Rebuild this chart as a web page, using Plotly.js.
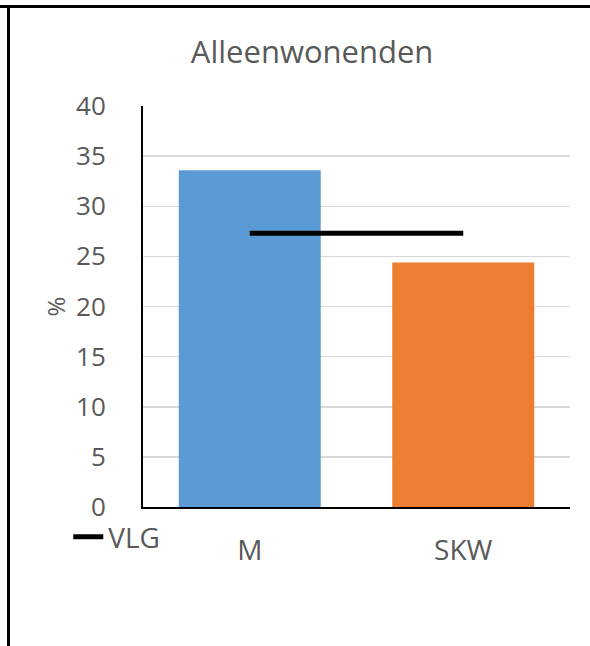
<!DOCTYPE html>
<html>
<head>
<meta charset="utf-8">
<script src="https://cdn.plot.ly/plotly-3.0.1.min.js"></script>
<style>
  html, body { margin: 0; padding: 0; background: #fff; }
  #wrap { position: relative; width: 590px; height: 646px; overflow: hidden; }
  #chart { position: absolute; left: 0; top: 0; width: 590px; height: 646px; }
  #frameTop { position: absolute; left: 0; top: 5px; width: 590px; height: 3px; background: #000; }
  #frameLeft { position: absolute; left: 7px; top: 5px; width: 3px; height: 641px; background: #000; }
</style>
</head>
<body>
<div id="wrap">
  <div id="chart"></div>
  <div id="frameTop"></div>
  <div id="frameLeft"></div>
</div>
<script>
const chartTitle = "Alleenwonenden";
const categories = ["M", "SKW"];
const barValues = [33.6, 24.4];
const barColors = ["#5B9BD5", "#ED7D31"];
const refName = "VLG";
const refValues = [27.3, 27.3];
const yTickValues = [0, 5, 10, 15, 20, 25, 30, 35, 40];
const yAxisTitle = "%";

const fontFamily = "'Open Sans', 'Noto Sans', sans-serif";
const grey = "#595959";

const traces = [
  {
    type: "bar",
    x: categories,
    y: barValues,
    marker: { color: barColors },
    showlegend: false,
    hoverinfo: "x+y"
  },
  {
    type: "scatter",
    mode: "lines",
    name: refName,
    x: categories,
    y: refValues,
    line: { color: "#000000", width: 5 },
    showlegend: true
  }
];

const layout = {
  width: 590,
  height: 646,
  margin: { l: 143, r: 20, t: 106, b: 139, pad: 0 },
  paper_bgcolor: "#ffffff",
  plot_bgcolor: "#ffffff",
  font: { family: fontFamily, color: grey, size: 26 },
  title: {
    text: chartTitle,
    font: { family: fontFamily, size: 31, color: grey },
    x: 0.529, xref: "container", xanchor: "center",
    y: 0.92, yref: "container", yanchor: "middle"
  },
  bargap: 0.335,
  xaxis: {
    type: "category",
    showline: true,
    linecolor: "#000000",
    linewidth: 2,
    showgrid: false,
    ticks: "",
    tickfont: { family: fontFamily, size: 28, color: grey },
    ticklabelstandoff: 17,
    fixedrange: true
  },
  yaxis: {
    range: [0, 40],
    tickvals: yTickValues,
    showline: true,
    linecolor: "#000000",
    linewidth: 2,
    showgrid: true,
    gridcolor: "#D9D9D9",
    gridwidth: 1.5,
    zeroline: false,
    ticks: "",
    tickfont: { family: fontFamily, size: 26, color: grey },
    ticklabelstandoff: 30,
    title: {
      text: yAxisTitle,
      font: { family: fontFamily, size: 24, color: grey },
      standoff: 4
    },
    fixedrange: true
  },
  showlegend: true,
  legend: {
    x: -0.175,
    xanchor: "left",
    y: -0.075,
    yanchor: "middle",
    font: { family: fontFamily, size: 28, color: grey },
    bgcolor: "rgba(0,0,0,0)",
    itemwidth: 30
  }
};

Plotly.newPlot("chart", traces, layout, { displayModeBar: false, staticPlot: true });
</script>
</body>
</html>
